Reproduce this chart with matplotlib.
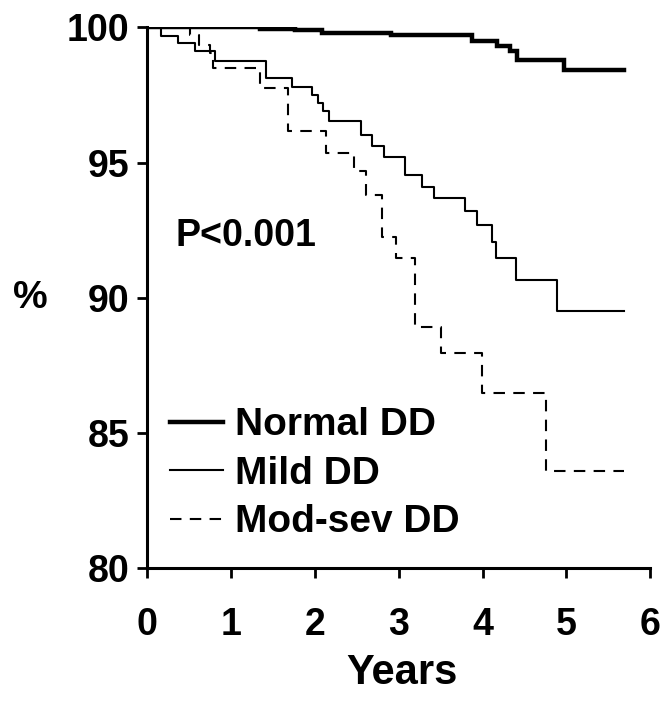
import matplotlib
matplotlib.use("Agg")
import matplotlib.pyplot as plt

# Kaplan-Meier event-free survival by diastolic dysfunction grade
normal_t = [0, 1.34, 1.76, 2.09, 2.91, 3.87, 4.17, 4.33, 4.41, 4.97]
normal_s = [100, 99.95, 99.9, 99.78, 99.7, 99.49, 99.31, 99.12, 98.81, 98.44]

mild_t = [0, 0.16, 0.37, 0.57, 0.81, 1.42, 1.72, 1.97, 2.04, 2.10, 2.17,
          2.55, 2.68, 2.83, 3.08, 3.28, 3.42, 3.79, 3.93, 4.11, 4.16, 4.40, 4.89]
mild_s = [100, 99.67, 99.42, 99.11, 98.74, 98.12, 97.81, 97.5, 97.2, 96.9, 96.52,
          96.03, 95.6, 95.22, 94.54, 94.11, 93.68, 93.21, 92.67, 92.07, 91.46, 90.66, 89.51]

modsev_t = [0, 0.51, 0.62, 0.75, 0.78, 1.34, 1.68, 2.13, 2.47, 2.61, 2.80,
            2.97, 3.20, 3.50, 3.99, 4.76]
modsev_s = [100, 99.7, 99.35, 99.05, 98.5, 97.75, 96.15, 95.35, 94.67, 93.8, 92.26,
            91.45, 88.93, 87.94, 86.48, 83.6]

follow_up_end = 5.69

group_labels = ["Normal DD", "Mild DD", "Mod-sev DD"]
x_ticks = [0, 1, 2, 3, 4, 5, 6]
y_ticks = [80, 85, 90, 95, 100]
p_text = "P<0.001"

plt.rcParams["font.family"] = ["Liberation Sans", "DejaVu Sans"]
plt.rcParams["font.weight"] = "bold"

fig = plt.figure(figsize=(6.64, 7.02), dpi=100)
ax = fig.add_axes([0.222, 0.191, 0.757, 0.770])


def extend(t, s):
    return list(t) + [follow_up_end], list(s) + [s[-1]]


t, s = extend(normal_t, normal_s)
ax.step(t, s, where="post", color="black", lw=3.2, label=group_labels[0],
        solid_joinstyle="miter")
t, s = extend(mild_t, mild_s)
ax.step(t, s, where="post", color="black", lw=1.5, label=group_labels[1])
t, s = extend(modsev_t, modsev_s)
ax.step(t, s, where="post", color="black", lw=1.5, ls=(0, (5.5, 4.0)),
        label=group_labels[2])

ax.set_xlim(0, 6)
ax.set_ylim(80, 100)
ax.set_xticks(x_ticks)
ax.set_yticks(y_ticks)
ax.tick_params(axis="both", direction="out", length=7, width=2, labelsize=27)
ax.tick_params(axis="x", pad=21)
ax.tick_params(axis="y", pad=6)
for lab in ax.get_xticklabels() + ax.get_yticklabels():
    lab.set_fontweight("bold")

for side in ("top", "right"):
    ax.spines[side].set_visible(False)
for side in ("left", "bottom"):
    ax.spines[side].set_linewidth(2.2)

ax.set_xlabel("Years", fontsize=30, fontweight="bold")
ax.xaxis.set_label_coords(0.507, -0.195)
ax.xaxis.label.set_va("center")
ax.set_ylabel("%", fontsize=28, fontweight="bold", rotation=0)
ax.yaxis.set_label_coords(-0.232, 0.5)
ax.yaxis.label.set_va("center")
ax.yaxis.label.set_ha("center")

ax.text(0.33, 91.9, p_text, fontsize=27, fontweight="bold", ha="left",
        va="baseline")

leg = ax.legend(loc="upper left", bbox_to_anchor=(0.045, 0.297), frameon=False,
                fontsize=28, handlelength=1.36, handletextpad=0.31,
                labelspacing=0.32, borderpad=0, borderaxespad=0)
for txt in leg.get_texts():
    txt.set_fontweight("bold")

fig.savefig("out.png", dpi=100)
